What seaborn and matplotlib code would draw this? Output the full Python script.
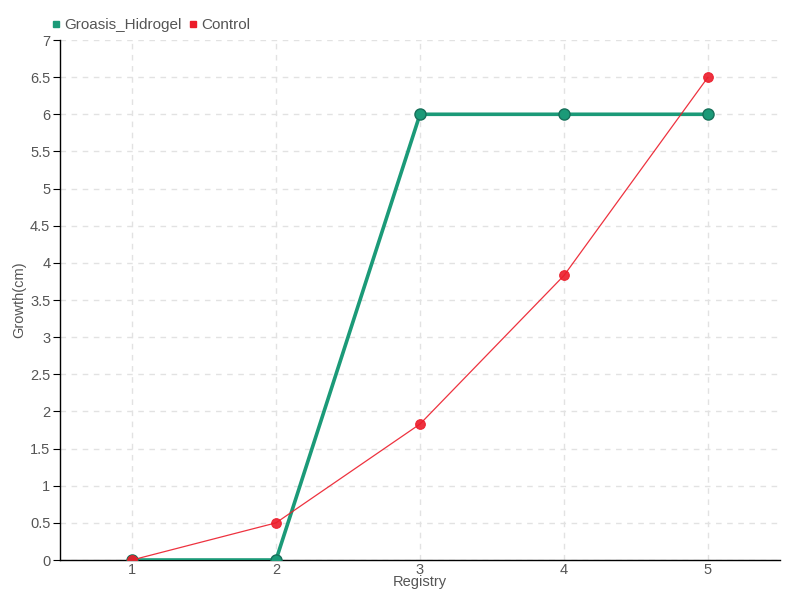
import pandas as pd
import matplotlib.pyplot as plt
import seaborn as sns
from matplotlib.lines import Line2D

registry = [1, 2, 3, 4, 5]
groasis = [0, 0, 6, 6, 6]
control = [0, 0.5, 1.83, 3.83, 6.5]
series_names = ['Groasis_Hidrogel', 'Control']
colors = ['#1b9a78', '#ec1c2a']

sns.set_style('white')
plt.rcParams['font.family'] = ['Liberation Sans', 'DejaVu Sans']

df = pd.DataFrame({'Registry': registry + registry,
                   'Growth': groasis + control,
                   'Serie': [series_names[0]] * 5 + [series_names[1]] * 5})

fig = plt.figure(figsize=(8, 6), dpi=100)
ax = fig.add_axes([60 / 800, 40 / 600, 720 / 800, 520 / 600])

sns.lineplot(data=df[df.Serie == series_names[0]], x='Registry', y='Growth',
             color=colors[0], linewidth=2.6, marker='o', markersize=8,
             markeredgecolor='#17705a', markeredgewidth=1, ax=ax, zorder=3)
sns.lineplot(data=df[df.Serie == series_names[1]], x='Registry', y='Growth',
             color=colors[1], linewidth=0.9, alpha=0.9, marker='o', markersize=7,
             markeredgecolor=colors[1], ax=ax, zorder=4)

ax.set_xlim(0.5, 5.5)
ax.set_ylim(0, 7)
ax.set_xticks(registry)
yt = [i * 0.5 for i in range(15)]
ax.set_yticks(yt)
ax.set_yticklabels(['%g' % v for v in yt])
ax.grid(True, color='#e2e2e2', linestyle=(0, (4, 4)), linewidth=1)
for s in ['top', 'right']:
    ax.spines[s].set_visible(False)
for s in ['left', 'bottom']:
    ax.spines[s].set_color('black')
    ax.spines[s].set_linewidth(1)
ax.tick_params(axis='y', length=5, color='black', labelsize=10.5, labelcolor='#555555', pad=2, left=True)
ax.tick_params(axis='x', length=0, labelsize=10.5, labelcolor='#555555', pad=2, bottom=True)
ax.set_xlabel('Registry', fontsize=10.5, color='#555555', labelpad=-1)
ax.set_ylabel('Growth(cm)', fontsize=10.5, color='#555555')
ax.yaxis.set_label_coords(-0.047, 0.5)

handles = [Line2D([], [], linestyle='none', marker='s', markersize=5, color=c) for c in colors]
fig.legend(handles, series_names, loc='upper left', bbox_to_anchor=(44 / 800, 1 - 12 / 600),
           ncol=2, frameon=False, fontsize=11, handletextpad=0.1, columnspacing=0.4,
           handlelength=0.8, labelcolor='#555555', borderaxespad=0)

fig.savefig('out.png', dpi=100)
